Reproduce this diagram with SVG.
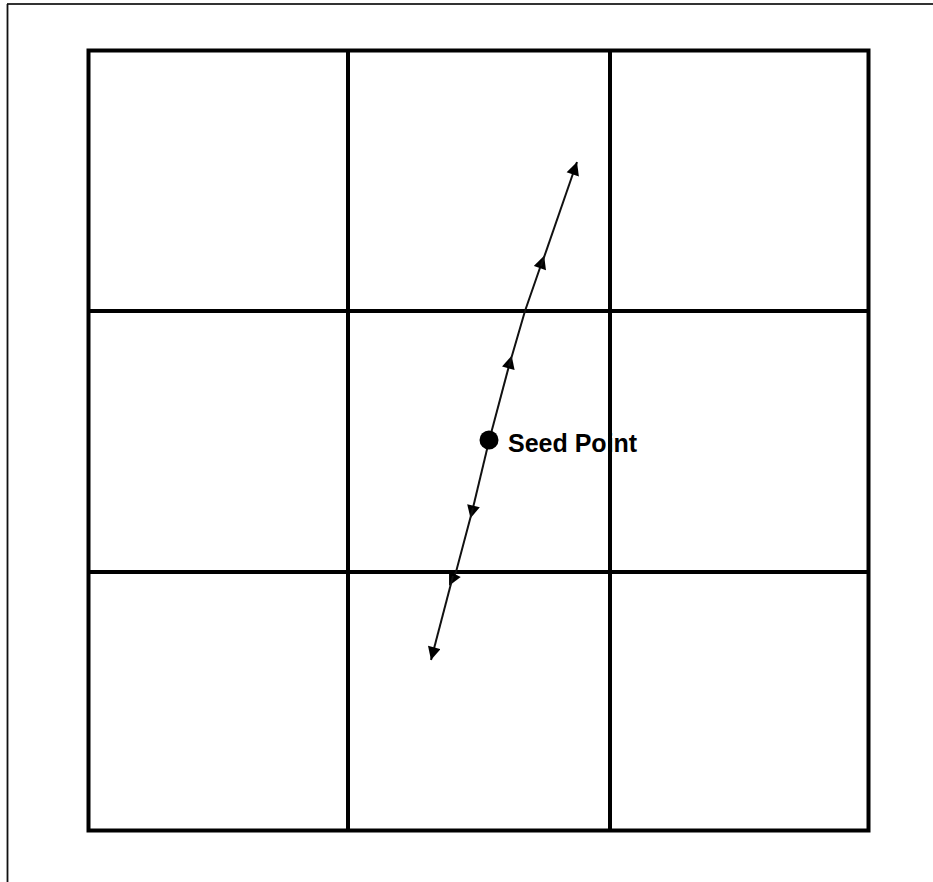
<svg xmlns="http://www.w3.org/2000/svg" width="933" height="882" viewBox="0 0 933 882">
  <defs>
    <marker id="tri" viewBox="0 0 12 12" refX="12" refY="6" markerWidth="14" markerHeight="13" markerUnits="userSpaceOnUse" orient="auto">
      <path d="M0,0 L12,6 L0,12 Z" fill="#000"/>
    </marker>
    <marker id="mid" viewBox="0 0 12 12" refX="6" refY="6" markerWidth="14" markerHeight="13" markerUnits="userSpaceOnUse" orient="auto">
      <path d="M0,0 L12,6 L0,12 Z" fill="#000"/>
    </marker>
  </defs>
  <style>
    .grid { fill: none; stroke: #000; stroke-width: 4; }
    .stream { fill: none; stroke: #111; stroke-width: 2; }
    .label { font-family: "Liberation Sans", Arial, sans-serif; font-size: 25px; font-weight: bold; fill: #000; }
  </style>
  <rect width="933" height="882" fill="#fff"/>
  <line x1="7" y1="4" x2="933" y2="4" stroke="#333" stroke-width="1.8"/>
  <line x1="7.5" y1="4" x2="7.5" y2="882" stroke="#111" stroke-width="1.8"/>
  <g id="grid">
    <rect class="grid" x="88.5" y="50.5" width="780" height="780"/>
    <line class="grid" x1="348" y1="50.5" x2="348" y2="830.5"/>
    <line class="grid" x1="610" y1="50.5" x2="610" y2="830.5"/>
    <line class="grid" x1="88.5" y1="311" x2="868.5" y2="311"/>
    <line class="grid" x1="88.5" y1="572" x2="868.5" y2="572"/>
  </g>
  <g id="connectors">
    <path class="stream" d="M489,441 L510,362" marker-end="url(#mid)"/>
    <path class="stream" d="M509,366 L525,311 L542,262" marker-end="url(#mid)"/>
    <path class="stream" d="M541,266 L577,162" marker-end="url(#tri)"/>
    <path class="stream" d="M489,441 L472,512" marker-end="url(#mid)"/>
    <path class="stream" d="M473,508 L456,572 L452,580" marker-end="url(#mid)"/>
    <path class="stream" d="M453,576 L431,660" marker-end="url(#tri)"/>
  </g>
  <g id="seed">
    <circle cx="489" cy="440" r="9.5" fill="#000"/>
    <text class="label" x="508" y="452">Seed Point</text>
  </g>
</svg>
